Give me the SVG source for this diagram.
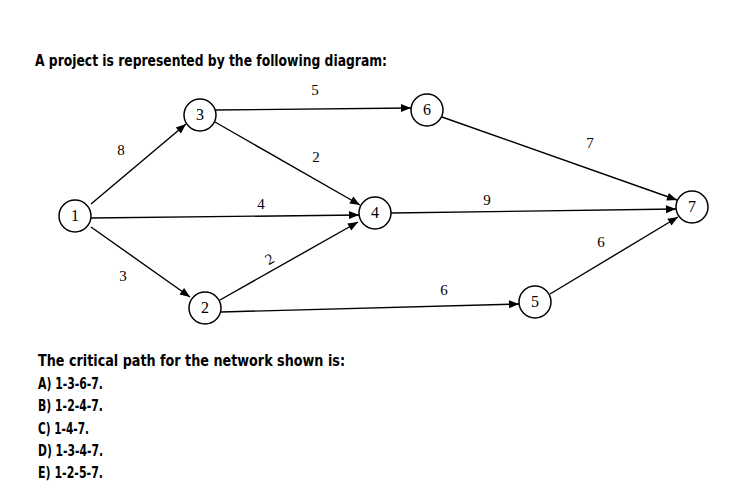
<svg xmlns="http://www.w3.org/2000/svg" width="746" height="501" viewBox="0 0 746 501">
<style>
.n{fill:#fff;stroke:#000;stroke-width:1.5}
.nt{font-family:"Liberation Serif",serif;font-size:16px;text-anchor:middle}
.e{stroke:#000;stroke-width:1.4;fill:none;marker-end:url(#a)}
.el{font-family:"Liberation Serif",serif;font-size:15px;text-anchor:middle}
.h{font-family:"DejaVu Sans Condensed","DejaVu Sans",sans-serif;font-weight:bold;font-size:15px;font-stretch:condensed}
</style>
<defs><marker id="a" viewBox="0 0 10 10" refX="10" refY="5" markerWidth="12" markerHeight="10" markerUnits="userSpaceOnUse" orient="auto"><path d="M0,1 L10,5 L0,9 z"/></marker></defs>
<rect width="746" height="501" fill="#fff"/>
<text class="h" x="35" y="66" textLength="352" lengthAdjust="spacingAndGlyphs">A project is represented by the following diagram:</text>
<g id="connectors">
<line class="e" x1="91" y1="204" x2="186" y2="124"/>
<line class="e" x1="216" y1="110" x2="411" y2="108"/>
<line class="e" x1="215" y1="122" x2="360" y2="205"/>
<line class="e" x1="91" y1="218" x2="359" y2="215"/>
<line class="e" x1="91" y1="227" x2="190" y2="297"/>
<line class="e" x1="220" y1="300" x2="358" y2="222"/>
<line class="e" x1="221" y1="312" x2="519" y2="304"/>
<line class="e" x1="391" y1="213" x2="676" y2="209"/>
<line class="e" x1="442" y1="117" x2="677" y2="200"/>
<line class="e" x1="550" y1="294" x2="678" y2="217"/>
</g>
<g id="labels">
<text class="el" x="315" y="95">5</text>
<text class="el" x="121" y="155">8</text>
<text class="el" x="316" y="162">2</text>
<text class="el" x="261" y="209">4</text>
<text class="el" x="487" y="205">9</text>
<text class="el" x="590" y="148">7</text>
<text class="el" x="601" y="247">6</text>
<text class="el" x="123" y="281">3</text>
<text class="el" x="270" y="264" transform="rotate(-30 270 260)">2</text>
<text class="el" x="444" y="295">6</text>
</g>
<g id="n1"><circle class="n" cx="75" cy="216" r="16"/><text class="nt" x="75" y="221">1</text></g>
<g id="n3"><circle class="n" cx="200" cy="115" r="16"/><text class="nt" x="200" y="120">3</text></g>
<g id="n6"><circle class="n" cx="427" cy="110" r="16"/><text class="nt" x="427" y="115">6</text></g>
<g id="n4"><circle class="n" cx="375" cy="213" r="16"/><text class="nt" x="375" y="218">4</text></g>
<g id="n7"><circle class="n" cx="692" cy="207" r="16"/><text class="nt" x="692" y="212">7</text></g>
<g id="n2"><circle class="n" cx="205" cy="308" r="16"/><text class="nt" x="205" y="313">2</text></g>
<g id="n5"><circle class="n" cx="535" cy="302" r="16"/><text class="nt" x="535" y="307">5</text></g>
<text class="h" x="38" y="366" textLength="307" lengthAdjust="spacingAndGlyphs">The critical path for the network shown is:</text>
<text class="h" x="38" y="389" textLength="65" lengthAdjust="spacingAndGlyphs">A) 1-3-6-7.</text>
<text class="h" x="38" y="411" textLength="65" lengthAdjust="spacingAndGlyphs">B) 1-2-4-7.</text>
<text class="h" x="38" y="434" textLength="51" lengthAdjust="spacingAndGlyphs">C) 1-4-7.</text>
<text class="h" x="38" y="456" textLength="65" lengthAdjust="spacingAndGlyphs">D) 1-3-4-7.</text>
<text class="h" x="38" y="478" textLength="65" lengthAdjust="spacingAndGlyphs">E) 1-2-5-7.</text>
</svg>
